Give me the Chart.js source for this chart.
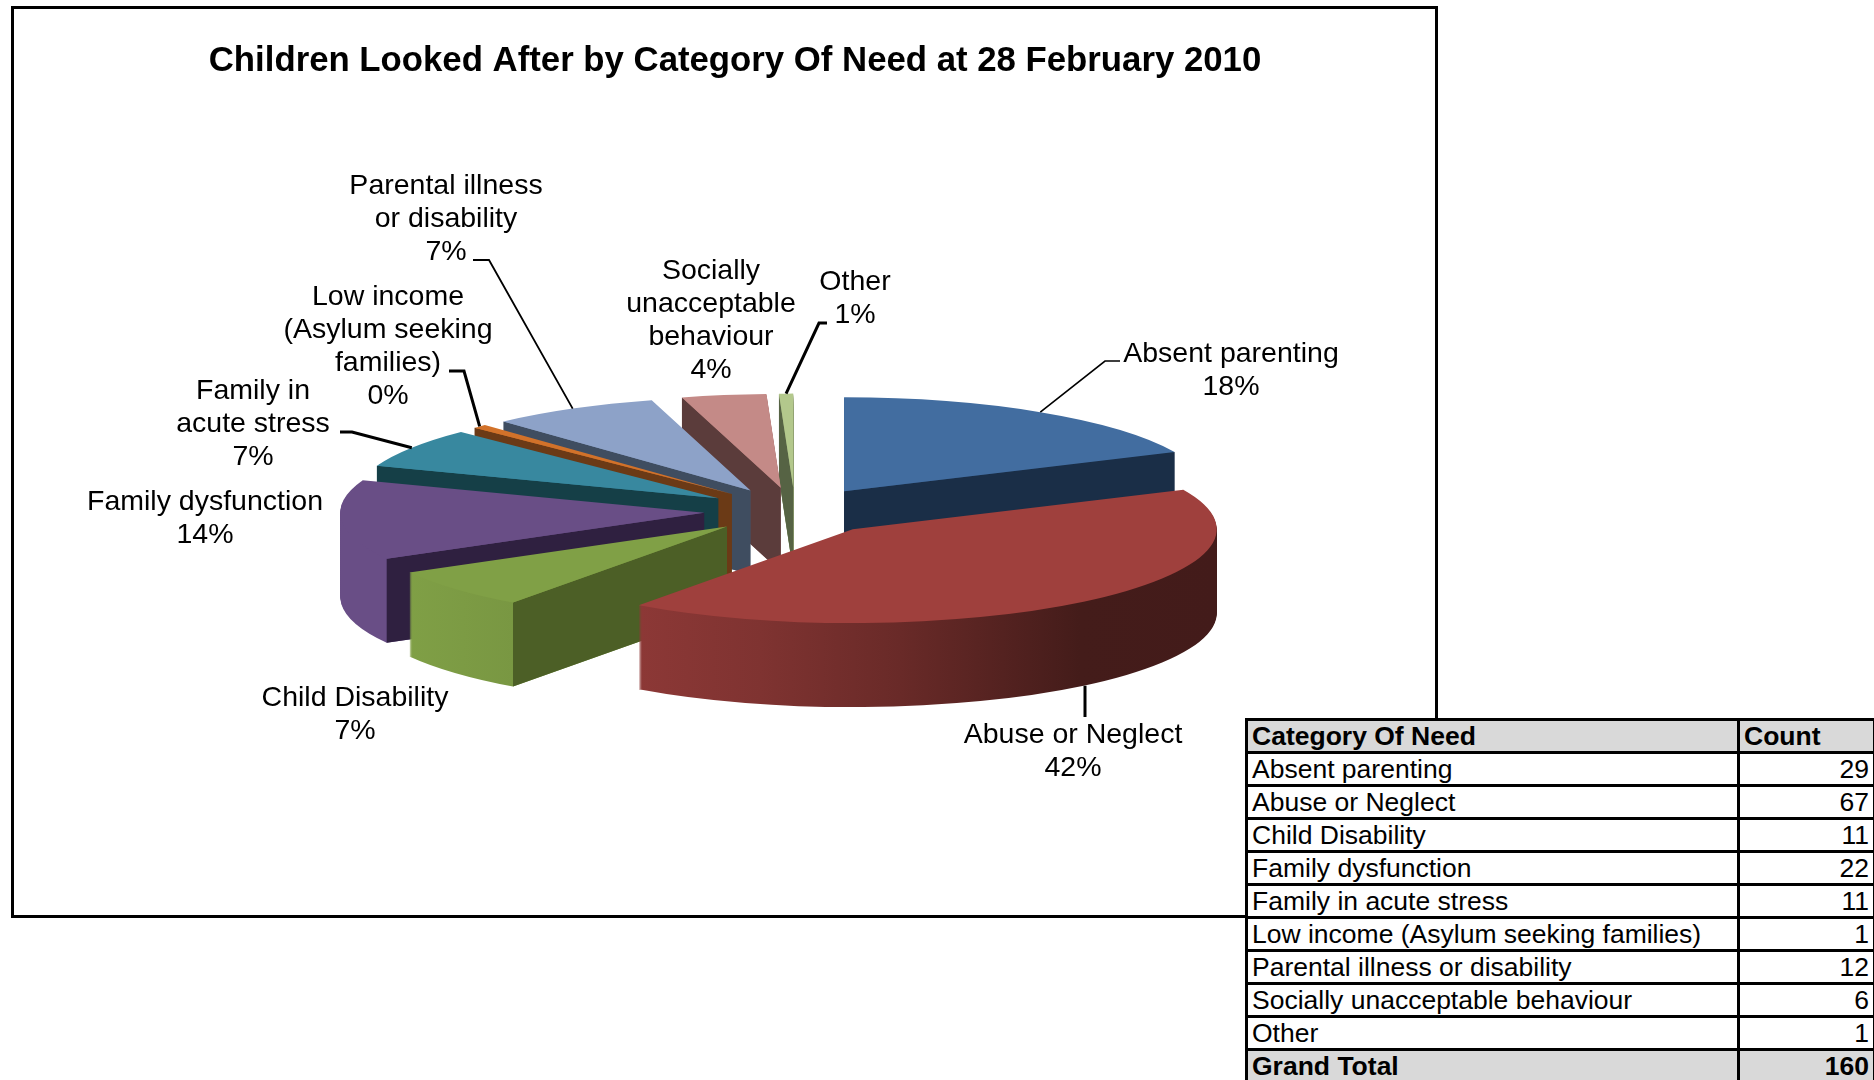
<!DOCTYPE html>
<html><head><meta charset="utf-8">
<script src="https://cdn.jsdelivr.net/npm/chart.js@4"></script>
<style>
html,body{margin:0;padding:0;background:#fff;width:1874px;height:1080px;overflow:hidden;font-family:"Liberation Sans",Arial,sans-serif}
#frame{position:absolute;left:11px;top:6px;width:1421px;height:906px;border:3px solid #000;box-sizing:content-box}
canvas{position:absolute;left:0;top:0}
#tbl{position:absolute;left:1245px;top:718px;border-collapse:collapse;table-layout:fixed;width:628px;background:#fff;font-size:26.5px;color:#000}
#tbl td{border:3px solid #000;height:30.05px;padding:0 4px;line-height:29px;white-space:nowrap;overflow:hidden;box-sizing:content-box}
#tbl .h td{background:#d9d9d9;font-weight:bold}
#tbl td.n{text-align:right}
</style></head>
<body>
<div id="frame"></div>
<canvas id="c" width="1874" height="1080"></canvas>
<table id="tbl"><colgroup><col style="width:492px"><col style="width:136px"></colgroup><tbody id="tb"></tbody></table>
<script>
// ---- data ----
const categories = ["Absent parenting","Abuse or Neglect","Child Disability","Family dysfunction","Family in acute stress","Low income (Asylum seeking families)","Parental illness or disability","Socially unacceptable behaviour","Other"];
const counts = [29,67,11,22,11,1,12,6,1];
const percentLabels = ["18%","42%","7%","14%","7%","0%","7%","4%","1%"];
const wrappedNames = [["Absent parenting"],["Abuse or Neglect"],["Child Disability"],["Family dysfunction"],["Family in","acute stress"],["Low income","(Asylum seeking","families)"],["Parental illness","or disability"],["Socially","unacceptable","behaviour"],["Other"]];
const title = "Children Looked After by Category Of Need at 28 February 2010";
const tableHeader = ["Category Of Need","Count"];
const tableFooter = ["Grand Total","160"];

// ---- style ----
const topColors = ["#426da0","#9f403d","#80a046","#694e86","#38889f","#d2722a","#8da2c8","#c48a87","#b3c88c"];
const cutColors = ["#1a2e47","#4a1c19","#4c5f26","#2f2040","#153f47","#6b3a16","#3f4d60","#5b3c3b","#566344"];
const paintOrder = [0,8,7,6,5,4,3,2,1];
const explodeFraction = 0.25, tilt = 0.258, depth = 84, pieRadius = 364, pieCX = 795, pieCY = 511;
const labelCentres = [[1231,354],[1073,735],[355,698],[205,502],[253,391],[388,297],[446,186],[711,271],[855,282]];
const leaderPaths = [
  {via:[[1120,361],[1105,361]],w:1.6},
  {via:[[1085,717]],drop:depth,w:3},
  null,null,
  {via:[[340,432],[352,432]],w:3},
  {via:[[449,371],[464,371]],w:3},
  {via:[[473,260],[489,260]],w:1.8},
  null,
  {via:[[827,323],[819,323]],w:3}
];
const FONT = '"Liberation Sans",Arial,sans-serif';
const LINE = 33;

function shade(hex,f){const n=parseInt(hex.slice(1),16);return `rgb(${Math.round((n>>16&255)*f)},${Math.round((n>>8&255)*f)},${Math.round((n&255)*f)})`;}

const pie3d = {
  id:'pie3d',
  beforeDatasetsDraw(chart){
    const ctx = chart.ctx, arcs = chart.getDatasetMeta(0).data;
    const apexOf = a=>{const m=(a.startAngle+a.endAngle)/2,r=a.outerRadius*explodeFraction;return [pieCX+r*Math.cos(m),pieCY+tilt*r*Math.sin(m)];};
    const drawArc = (a,ax,ay,dy,fill)=>{
      ctx.save();
      ctx.translate(ax,ay+dy);ctx.scale(1,tilt);ctx.translate(-a.x,-a.y);
      const saved=a.options;
      let f=fill;
      if(typeof fill==='function')f=fill(ax,a);
      a.options=Object.assign({},saved,{backgroundColor:f,borderWidth:0,offset:0,spacing:0});
      a.draw(ctx);
      a.options=saved;
      ctx.restore();
    };
    paintOrder.forEach(i=>{
      const a=arcs[i],[ax,ay]=apexOf(a),R=a.outerRadius;
      // outer wall: library arc repeated down the extrusion depth, lit from the left
      const wall=(px,el)=>{
        const toUser=x=>x-px+el.x;
        const g=ctx.createLinearGradient(toUser(400),0,toUser(1218),0);
        [[400,1],[640,.88],[760,.8],[900,.66],[1080,.43],[1218,.42]].forEach(([x,f])=>g.addColorStop((x-400)/818,shade(topColors[i],f)));
        return g;
      };
      for(let d=depth;d>0;d--)drawArc(a,ax,ay,d,wall);
      // cut faces that look toward the viewer
      const face=(ang)=>{
        const cx=ax+R*Math.cos(ang),cy=ay+tilt*R*Math.sin(ang);
        ctx.beginPath();ctx.moveTo(ax,ay);ctx.lineTo(cx,cy);ctx.lineTo(cx,cy+depth);ctx.lineTo(ax,ay+depth);ctx.closePath();
        ctx.fillStyle=cutColors[i];ctx.fill();
      };
      const toClock=t=>t+Math.PI/2;
      if(Math.sin(toClock(a.startAngle))<-1e-6)face(a.startAngle);
      if(Math.sin(toClock(a.endAngle))>1e-6)face(a.endAngle);
      drawArc(a,ax,ay,0,topColors[i]);
    });
    // data labels and leader lines
    ctx.save();
    ctx.fillStyle='#000';ctx.font='28.5px '+FONT;ctx.textAlign='center';ctx.textBaseline='middle';
    categories.forEach((c,i)=>{
      const lines=[...wrappedNames[i],percentLabels[i]],[lx,ly]=labelCentres[i];
      lines.forEach((t,k)=>ctx.fillText(t,lx,ly+k*LINE));
      const lead=leaderPaths[i];
      if(lead){
        const a=arcs[i],[ax,ay]=apexOf(a),m=(a.startAngle+a.endAngle)/2;
        const ex=ax+a.outerRadius*Math.cos(m),ey=ay+tilt*a.outerRadius*Math.sin(m)+(lead.drop||0);
        ctx.beginPath();lead.via.forEach((p,k)=>k?ctx.lineTo(p[0],p[1]):ctx.moveTo(p[0],p[1]));
        ctx.lineTo(lead.via.length===1?lead.via[0][0]:ex,ey);
        ctx.lineWidth=lead.w;ctx.strokeStyle='#000';ctx.stroke();
      }
    });
    ctx.restore();
    return false;
  }
};

new Chart(document.getElementById('c'),{
  type:'pie',
  data:{labels:categories,datasets:[{data:counts,backgroundColor:topColors,borderWidth:0}]},
  plugins:[pie3d],
  options:{
    responsive:false,animation:false,radius:pieRadius,devicePixelRatio:1,
    layout:{padding:{right:404,top:41}},
    plugins:{
      legend:{display:false},tooltip:{enabled:false},
      title:{display:true,text:title,color:'#000',font:{family:FONT,size:34.75,weight:'bold'},padding:{top:0,bottom:0}}
    }
  }
});

// ---- table ----
const tb=document.getElementById('tb');
const addRow=(a,b,cls)=>{const r=document.createElement('tr');if(cls)r.className=cls;
  const t1=document.createElement('td');t1.textContent=a;const t2=document.createElement('td');t2.textContent=b;
  if(cls!=='h'||b!==tableHeader[1])t2.className='n';r.append(t1,t2);tb.append(r);};
addRow(tableHeader[0],tableHeader[1],'h');
categories.forEach((c,i)=>addRow(c,counts[i]));
addRow(tableFooter[0],tableFooter[1],'h');
</script>
</body></html>
